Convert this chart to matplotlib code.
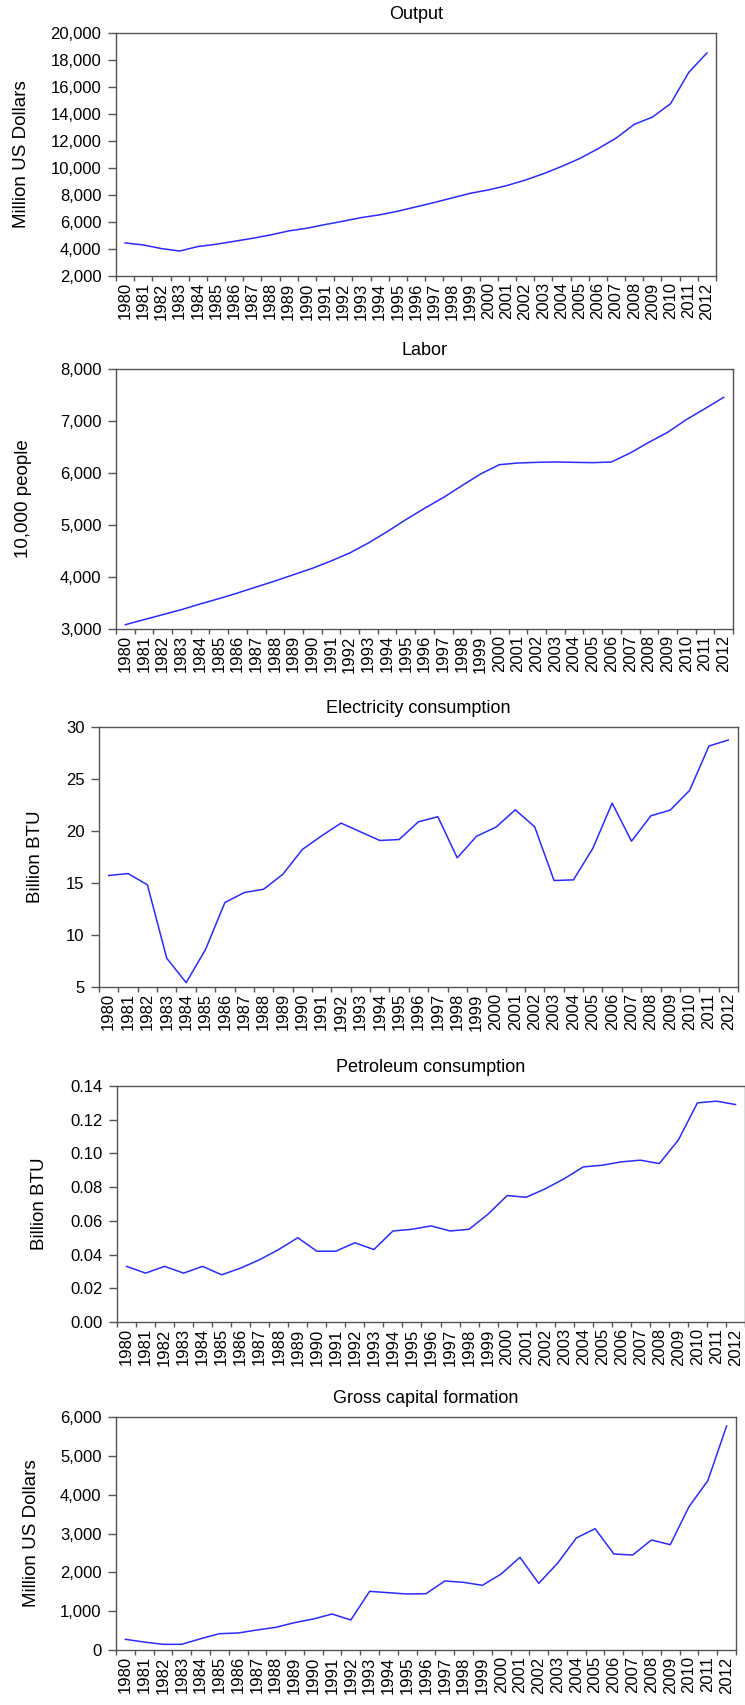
import numpy as np
import matplotlib
matplotlib.use("Agg")
import matplotlib.pyplot as plt
from matplotlib.ticker import FixedLocator, FuncFormatter

plt.rcParams["font.family"] = ["Liberation Sans", "DejaVu Sans"]

# =============================================================================
# Data
# =============================================================================

years = [str(y) for y in range(1980, 2013)]

output = [4450, 4300, 4030, 3850, 4180, 4350, 4570, 4790, 5040, 5340, 5540,
          5810, 6060, 6330, 6530, 6800, 7120, 7440, 7790, 8130, 8380, 8700,
          9100, 9570, 10110, 10700, 11420, 12210, 13230, 13770, 14760, 17080,
          18520]

labor = [3083, 3180, 3276, 3372, 3481, 3583, 3692, 3808, 3923, 4045, 4167,
         4308, 4462, 4654, 4872, 5103, 5321, 5526, 5756, 5981, 6160, 6192,
         6205, 6212, 6205, 6199, 6212, 6385, 6590, 6782, 7026, 7237, 7455]

electricity = [15.72, 15.91, 14.82, 7.76, 5.42, 8.6, 13.12, 14.08, 14.4,
               15.85, 18.22, 19.54, 20.76, 19.92, 19.09, 19.18, 20.89, 21.37,
               17.42, 19.5, 20.37, 22.04, 20.4, 15.24, 15.3, 18.32, 22.68,
               19.02, 21.46, 22.01, 23.9, 28.17, 28.75]

petroleum = [0.033, 0.029, 0.033, 0.029, 0.033, 0.028, 0.032, 0.037, 0.043,
             0.050, 0.042, 0.042, 0.047, 0.043, 0.054, 0.055, 0.057, 0.054,
             0.055, 0.064, 0.075, 0.074, 0.079, 0.085, 0.092, 0.093, 0.095,
             0.096, 0.094, 0.108, 0.130, 0.131, 0.129]

capital = [275, 205, 146, 146, 290, 420, 438, 515, 584, 704, 798, 927, 773,
           1511, 1476, 1442, 1450, 1777, 1742, 1665, 1957, 2386, 1717, 2232,
           2884, 3124, 2472, 2446, 2833, 2712, 3691, 4361, 5768]

# =============================================================================
# Layout
# =============================================================================

FIG_W, FIG_H = 745, 1705
LINE_COLOR = "#2b2bff"
SPINE_COLOR = "#555555"

# title, ylabel, values, y ticks, tick format, box (left, top, right, bottom px), ylabel centre x px
panels = [
    ("Output", "Million US Dollars", output, np.arange(2000, 20001, 2000),
     lambda v, p: f"{v:,.0f}", (116, 33, 716, 276), 21),
    ("Labor", "10,000 people", labor, np.arange(3000, 8001, 1000),
     lambda v, p: f"{v:,.0f}", (116, 369, 733, 629), 24),
    ("Electricity consumption", "Billion BTU", electricity, np.arange(5, 31, 5),
     lambda v, p: f"{v:.0f}", (99, 727, 738, 987), 36),
    ("Petroleum consumption", "Billion BTU", petroleum, np.linspace(0, 0.14, 8),
     lambda v, p: f"{v:.2f}", (117, 1086, 745, 1322), 40),
    ("Gross capital formation", "Million US Dollars", capital, np.arange(0, 6001, 1000),
     lambda v, p: f"{v:,.0f}", (116, 1417, 736, 1650), 32),
]

fig = plt.figure(figsize=(FIG_W / 100, FIG_H / 100), dpi=100)

x = np.arange(len(years))

for title, ylabel, values, yticks, fmt, box, ylab_px in panels:
    l, t, r, b = box
    ax = fig.add_axes([l / FIG_W, 1 - b / FIG_H, (r - l) / FIG_W, (b - t) / FIG_H])
    ax.plot(x, values, color=LINE_COLOR, linewidth=1.1)

    ax.set_xlim(-0.5, len(years) - 0.5)
    ax.set_ylim(yticks[0], yticks[-1])

    # category labels centred, tick marks between categories
    ax.xaxis.set_major_locator(FixedLocator(x))
    ax.set_xticklabels(years, rotation=90, fontsize=12)
    ax.xaxis.set_minor_locator(FixedLocator(np.arange(-0.5, len(years), 1.0)))
    ax.tick_params(axis="x", which="major", length=0, pad=4.5)
    ax.tick_params(axis="x", which="minor", length=3.8, width=1.0,
                   color=SPINE_COLOR, direction="out")

    ax.yaxis.set_major_locator(FixedLocator(yticks))
    ax.yaxis.set_major_formatter(FuncFormatter(fmt))
    ax.tick_params(axis="y", length=5.5, width=1.0, color=SPINE_COLOR,
                   direction="out", labelsize=12, pad=5)

    for sp in ax.spines.values():
        sp.set_color(SPINE_COLOR)
        sp.set_linewidth(1.0)

    ax.set_title(title, fontsize=13, pad=10)
    ax.set_ylabel(ylabel, fontsize=13.5, va="center")
    ax.yaxis.set_label_coords((ylab_px - l) / (r - l), 0.5)

fig.savefig("out.png", dpi=100)
